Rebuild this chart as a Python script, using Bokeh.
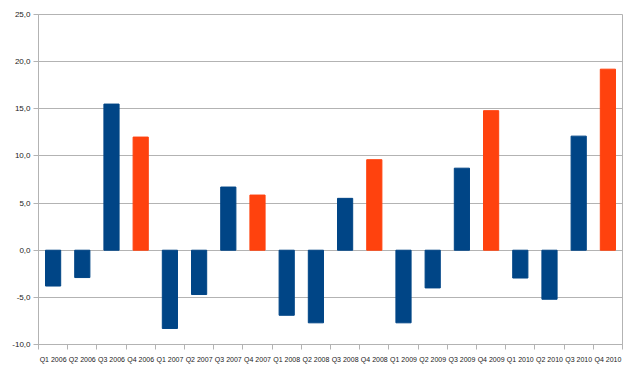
from bokeh.plotting import figure
from bokeh.models import FixedTicker, Range1d, ColumnDataSource
from bokeh.embed import file_html
from bokeh.resources import INLINE

quarters = ["Q1 2006", "Q2 2006", "Q3 2006", "Q4 2006",
            "Q1 2007", "Q2 2007", "Q3 2007", "Q4 2007",
            "Q1 2008", "Q2 2008", "Q3 2008", "Q4 2008",
            "Q1 2009", "Q2 2009", "Q3 2009", "Q4 2009",
            "Q1 2010", "Q2 2010", "Q3 2010", "Q4 2010"]
values = [-3.8, -2.9, 15.5, 12.0,
          -8.3, -4.7, 6.7, 5.85,
          -6.9, -7.7, 5.5, 9.6,
          -7.7, -4.0, 8.7, 14.8,
          -2.95, -5.2, 12.1, 19.2]
y_ticks = [-10, -5, 0, 5, 10, 15, 20, 25]

BLUE = "#004586"
ORANGE = "#ff420e"
GRID = "#b3b3b3"

xs = [i + 0.5 for i in range(len(quarters))]
colors = [ORANGE if q.startswith("Q4") else BLUE for q in quarters]
src = ColumnDataSource(dict(x=xs, top=values, color=colors))

p = figure(width=628, height=365, output_backend="svg", toolbar_location=None,
           x_range=Range1d(0, len(quarters)), y_range=Range1d(-10, 25),
           min_border_left=38, min_border_right=6, min_border_top=14, min_border_bottom=20)
p.vbar(x="x", top="top", bottom=0, width=0.52, color="color", source=src)

p.xaxis.ticker = FixedTicker(ticks=xs, minor_ticks=list(range(len(quarters) + 1)))
p.xaxis.major_label_overrides = {x: q for x, q in zip(xs, quarters)}
p.xaxis.major_tick_out = 0
p.xaxis.major_tick_in = 0
p.xaxis.minor_tick_out = 5
p.xaxis.minor_tick_in = 0
p.xaxis.minor_tick_line_color = GRID
p.xaxis.axis_line_color = GRID
p.xaxis.major_label_standoff = 6

p.yaxis.ticker = FixedTicker(ticks=y_ticks, minor_ticks=[])
p.yaxis.major_label_overrides = {t: f"{t:.1f}".replace(".", ",") for t in y_ticks}
p.yaxis.major_tick_out = 5
p.yaxis.major_tick_in = 0
p.yaxis.major_tick_line_color = GRID
p.yaxis.axis_line_color = GRID
p.yaxis.major_label_standoff = 3

for ax in (p.xaxis, p.yaxis):
    ax.major_label_text_font = "Liberation Sans"
    ax.major_label_text_color = "#222222"
p.xaxis.major_label_text_font_size = "7px"
p.yaxis.major_label_text_font_size = "8px"

p.xgrid.grid_line_color = None
p.ygrid.grid_line_color = GRID
p.ygrid.ticker = FixedTicker(ticks=y_ticks)
p.outline_line_color = GRID
p.background_fill_color = "white"
p.border_fill_color = "white"

open("out.html", "w").write(file_html(p, INLINE))
